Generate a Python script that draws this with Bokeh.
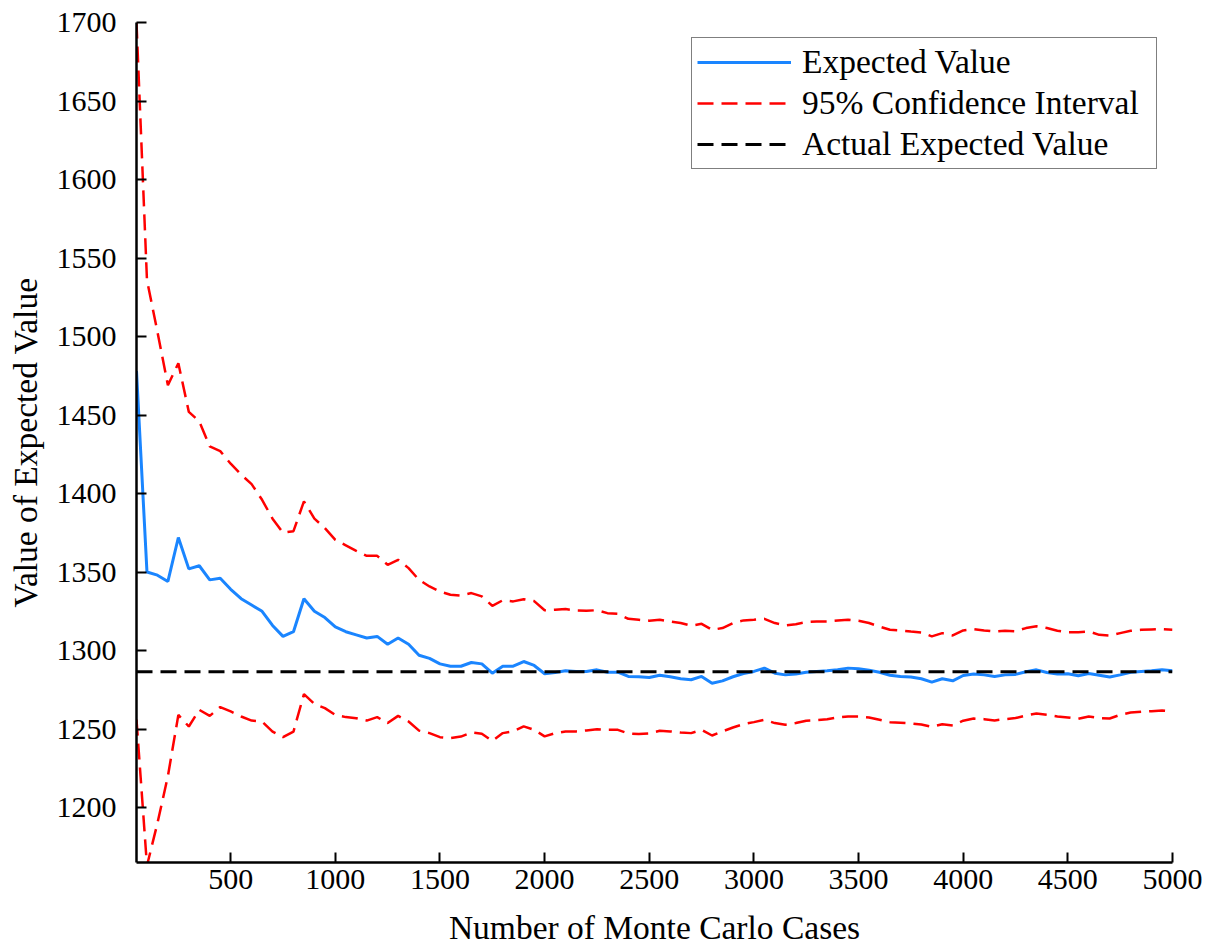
from bokeh.plotting import figure
from bokeh.models import Range1d, FixedTicker, Legend, LegendItem
from bokeh.embed import file_html
from bokeh.resources import INLINE

# ---- data ----
cases = list(range(50, 5001, 50))

expected_value = [
    1478, 1350, 1348, 1344, 1372, 1352, 1354, 1345, 1346, 1339,
    1333, 1329, 1325, 1316, 1309, 1312, 1333, 1325, 1321, 1315,
    1312, 1310, 1308, 1309, 1304, 1308, 1304, 1297, 1295, 1291.5,
    1290, 1290, 1292.4, 1291.5, 1285.6, 1290, 1290, 1293, 1290.5, 1285.2,
    1286, 1287.1, 1286.7, 1286.7, 1287.7, 1286.2, 1286.2, 1283.5, 1283.3, 1282.8,
    1284.3, 1283.3, 1282, 1281.4, 1283.5, 1279.2, 1280.7, 1283.3, 1285.4, 1286.7,
    1288.8, 1285.6, 1284.5, 1285, 1286.2, 1286.7, 1287.1, 1287.7, 1288.8, 1288.4,
    1287.5, 1286.2, 1284.3, 1283.5, 1283.1, 1282, 1279.9, 1282, 1280.7, 1284.1,
    1285, 1284.5, 1283.5, 1284.5, 1284.8, 1286.5, 1287.7, 1286, 1285, 1285.2,
    1283.9, 1285.4, 1284.3, 1283.1, 1284.5, 1286.2, 1286.7, 1287.1, 1287.7, 1287.1,
]

ci_upper = [
    1700, 1536, 1503, 1469, 1483, 1452, 1446, 1430, 1427, 1419,
    1412, 1406, 1396, 1384, 1375, 1376, 1395, 1384, 1378, 1370.5,
    1367, 1363.5, 1360.3, 1360.3, 1354.6, 1357.8, 1352.5, 1345, 1340.8, 1337.6,
    1335.5, 1335, 1336.6, 1334.5, 1328.5, 1332, 1331.3, 1332.7, 1331.5, 1325.7,
    1326, 1326.4, 1325.5, 1325.3, 1325.7, 1323.8, 1323.4, 1320.2, 1319.6, 1319,
    1319.6, 1318.5, 1317.5, 1315.8, 1317, 1313.2, 1314.3, 1317.5, 1319.2, 1319.6,
    1320.2, 1317.5, 1316, 1316.8, 1318.1, 1318.5, 1318.5, 1319.2, 1319.6, 1319,
    1317.5, 1315.3, 1313.2, 1312.8, 1312.1, 1311.5, 1309, 1311.1, 1309.6, 1312.8,
    1313.6, 1312.8, 1312.1, 1312.6, 1312.3, 1314.3, 1315.5, 1314.3, 1312.6, 1311.7,
    1311.7, 1312.1, 1310, 1309.6, 1311.1, 1312.6, 1313.2, 1313.4, 1313.6, 1313.2,
]

ci_lower = [
    1256, 1163, 1190, 1220, 1259, 1251.6, 1262.2, 1258.4, 1264, 1261.2,
    1258, 1255.4, 1254.8, 1248.4, 1244.8, 1248.4, 1272.2, 1266, 1263.3, 1259,
    1257.6, 1256.9, 1255.4, 1257.6, 1253.8, 1258.4, 1254.8, 1249, 1247.4, 1244.8,
    1244.2, 1245.2, 1247.8, 1247, 1242.4, 1247.4, 1248.5, 1251.7, 1249.5, 1245.3,
    1247.4, 1248.5, 1248.5, 1249.1, 1249.9, 1249.5, 1249.5, 1247.2, 1246.8, 1247.2,
    1248.9, 1248.5, 1247.8, 1247.4, 1249.5, 1245.9, 1248.5, 1251, 1253.1, 1254.4,
    1255.9, 1253.8, 1252.7, 1253.8, 1255.3, 1255.7, 1256.3, 1257.4, 1258, 1258,
    1257.4, 1255.9, 1254.4, 1254, 1253.6, 1252.9, 1251.4, 1253.1, 1252.3, 1255.3,
    1256.7, 1256.3, 1255.5, 1256.3, 1257, 1258.6, 1259.9, 1259.1, 1258, 1257.4,
    1256.5, 1258, 1257, 1256.7, 1259.1, 1260.5, 1261, 1261.4, 1261.8, 1261.2,
]

actual_expected_value = 1286.5

x_ticks = [500, 1000, 1500, 2000, 2500, 3000, 3500, 4000, 4500, 5000]
y_ticks = [1200, 1250, 1300, 1350, 1400, 1450, 1500, 1550, 1600, 1650, 1700]

FONT = "Liberation Serif"

p = figure(
    width=1204, height=949,
    output_backend="svg", toolbar_location=None,
    x_range=Range1d(50, 5000), y_range=Range1d(1165, 1700),
    min_border_left=136, min_border_right=32, min_border_top=22, min_border_bottom=87,
)
p.outline_line_color = None
p.xgrid.visible = False
p.ygrid.visible = False

p.axis.axis_line_width = 2.5
p.axis.axis_line_color = "black"
p.axis.major_tick_line_width = 2
p.axis.major_tick_in = 10
p.axis.major_tick_out = 0
p.axis.minor_tick_line_color = None
p.axis.major_label_text_font = FONT
p.axis.major_label_text_font_style = "normal"
p.axis.major_label_text_font_size = "30px"
p.axis.major_label_text_color = "black"
p.axis.axis_label_text_font = FONT
p.axis.axis_label_text_font_size = "33.5px"
p.axis.axis_label_text_font_style = "normal"
p.axis.axis_label_text_color = "black"

p.xaxis[0].ticker = FixedTicker(ticks=x_ticks)
p.yaxis[0].ticker = FixedTicker(ticks=y_ticks)
p.xaxis[0].axis_label = "Number of Monte Carlo Cases"
p.yaxis[0].axis_label = "Value of Expected Value"
p.xaxis[0].major_label_standoff = 7
p.xaxis[0].axis_label_standoff = 17
p.yaxis[0].major_label_standoff = 20
p.yaxis[0].axis_label_standoff = 10

r_ev = p.line(cases, expected_value, line_color="#1a85ff", line_width=3)
r_up = p.line(cases, ci_upper, line_color="#ff0000", line_width=2.5, line_dash="16 8")
p.line(cases, ci_lower, line_color="#ff0000", line_width=2.5, line_dash="16 8")
r_act = p.line([cases[0], cases[-1]], [actual_expected_value, actual_expected_value],
               line_color="black", line_width=3, line_dash="16 8")

legend = Legend(
    items=[
        LegendItem(label="Expected Value", renderers=[r_ev]),
        LegendItem(label="95% Confidence Interval", renderers=[r_up]),
        LegendItem(label="Actual Expected Value", renderers=[r_act]),
    ],
    location="top_right",
    margin=15,
    padding=5,
    spacing=3,
    glyph_width=94,
    glyph_height=34,
    label_height=34,
    label_width=349,
    label_standoff=11,
    label_text_font=FONT,
    label_text_font_size="33.5px",
    label_text_color="black",
    border_line_color="black",
    border_line_width=1.5,
    background_fill_color="white",
    background_fill_alpha=1.0,
)
p.add_layout(legend, "center")

open("out.html", "w").write(file_html(p, INLINE))
